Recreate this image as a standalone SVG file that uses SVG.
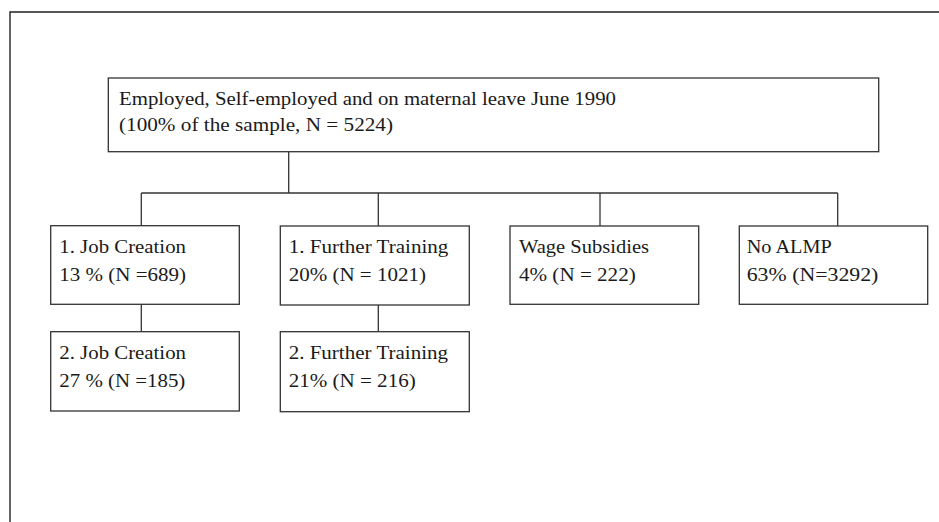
<svg xmlns="http://www.w3.org/2000/svg" width="939" height="522" viewBox="0 0 939 522">
<style>
.box{fill:#fff;stroke:#333;stroke-width:1.3}
.ln{fill:none;stroke:#333;stroke-width:1.3}
.frame{fill:none;stroke:#222;stroke-width:1.4}
text{font-family:"Liberation Serif","Times New Roman",serif;font-size:19px;fill:#1a1a1a}
</style>
<rect x="0" y="0" width="939" height="522" fill="#fff"/>
<path class="frame" d="M10,522 V12 H939"/>
<g id="connectors">
<path class="ln" d="M288.7,152 V193"/>
<path class="ln" d="M141.3,193 H837.7"/>
<path class="ln" d="M141.3,193 V226"/>
<path class="ln" d="M378.3,193 V226"/>
<path class="ln" d="M600,193 V226"/>
<path class="ln" d="M837.7,193 V226"/>
<path class="ln" d="M141.3,304.5 V331.7"/>
<path class="ln" d="M378.3,305 V331.7"/>
</g>
<g id="root">
<rect class="box" x="108.3" y="78" width="770.4" height="73.7"/>
<text x="119" y="104.7" textLength="497" lengthAdjust="spacingAndGlyphs">Employed, Self-employed and on maternal leave June 1990</text>
<text x="119" y="131" textLength="274" lengthAdjust="spacingAndGlyphs">(100% of the sample, N = 5224)</text>
</g>
<g id="job1">
<rect class="box" x="50.7" y="225.7" width="188.6" height="78.6"/>
<text x="59.3" y="253.3" textLength="126.7" lengthAdjust="spacingAndGlyphs">1. Job Creation</text>
<text x="59.3" y="281" textLength="126.7" lengthAdjust="spacingAndGlyphs">13 % (N =689)</text>
</g>
<g id="train1">
<rect class="box" x="280.3" y="226" width="189" height="79"/>
<text x="288.7" y="253.3" textLength="159.7" lengthAdjust="spacingAndGlyphs">1. Further Training</text>
<text x="288.7" y="281" textLength="137.3" lengthAdjust="spacingAndGlyphs">20% (N = 1021)</text>
</g>
<g id="wage">
<rect class="box" x="510" y="226" width="188.7" height="78.3"/>
<text x="519" y="253.3" textLength="130" lengthAdjust="spacingAndGlyphs">Wage Subsidies</text>
<text x="519" y="281" textLength="116.7" lengthAdjust="spacingAndGlyphs">4% (N = 222)</text>
</g>
<g id="noalmp">
<rect class="box" x="739.3" y="226" width="188.4" height="78.3"/>
<text x="746.7" y="253.3" textLength="85" lengthAdjust="spacingAndGlyphs">No ALMP</text>
<text x="746.7" y="281" textLength="131.7" lengthAdjust="spacingAndGlyphs">63% (N=3292)</text>
</g>
<g id="job2">
<rect class="box" x="50.7" y="331.7" width="188.6" height="79.3"/>
<text x="59.3" y="359.3" textLength="126.7" lengthAdjust="spacingAndGlyphs">2. Job Creation</text>
<text x="59.3" y="387" textLength="126" lengthAdjust="spacingAndGlyphs">27 % (N =185)</text>
</g>
<g id="train2">
<rect class="box" x="280.3" y="331.7" width="189" height="80"/>
<text x="288.7" y="359.3" textLength="159.3" lengthAdjust="spacingAndGlyphs">2. Further Training</text>
<text x="288.7" y="387" textLength="127" lengthAdjust="spacingAndGlyphs">21% (N = 216)</text>
</g>
</svg>
